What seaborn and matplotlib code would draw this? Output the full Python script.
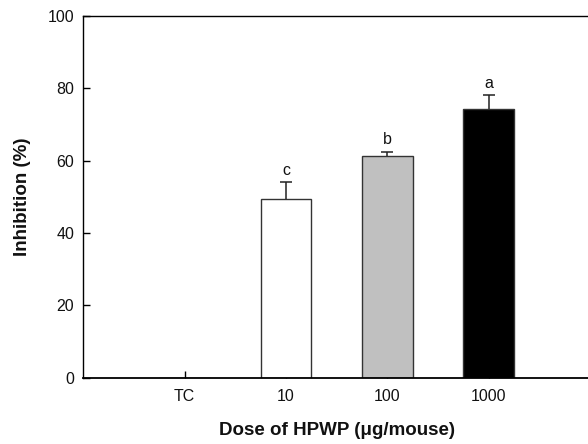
import matplotlib
matplotlib.use("Agg")
import matplotlib.pyplot as plt
import seaborn as sns
import pandas as pd

categories = ["TC", "10", "100", "1000"]
inhibition = [0.0, 49.4, 61.3, 74.3]
errors = [0.0, 4.6, 1.2, 3.9]
letters = ["", "c", "b", "a"]
bar_colors = ["#ffffff", "#ffffff", "#c0c0c0", "#000000"]

sns.set_theme(style="white")
plt.rcParams['font.family'] = ['Liberation Sans', 'DejaVu Sans']
plt.rcParams['xtick.direction'] = 'in'
plt.rcParams['ytick.direction'] = 'in'
plt.rcParams['xtick.bottom'] = True
plt.rcParams['ytick.left'] = True

df = pd.DataFrame({"dose": categories, "inh": inhibition})

fig = plt.figure(figsize=(5.88, 4.44), dpi=100)
ax = fig.add_axes([83.3 / 588, 1 - 377.7 / 444, 506.5 / 588, 361.7 / 444])

sns.barplot(data=df, x="dose", y="inh", hue="dose", order=categories,
            hue_order=categories, palette=bar_colors, width=0.5,
            edgecolor="#333333", linewidth=1.0, legend=False, errorbar=None, ax=ax)

xs = list(range(len(categories)))
for i in range(1, len(categories)):
    _, caps, _ = ax.errorbar(xs[i], inhibition[i], yerr=[[0], [errors[i]]], fmt="none",
                             ecolor="#222222", elinewidth=1.1, capsize=4,
                             capthick=1.1, zorder=1)
    if len(caps) == 2:
        caps[0].set_visible(False)
    ax.annotate(letters[i], (xs[i], inhibition[i] + errors[i]),
                xytext=(0, 3), textcoords="offset points",
                ha="center", va="bottom", fontsize=11.5, color="#111111")

ax.set_xlim(-1, 4)
ax.set_ylim(0, 100)
ax.set_yticks([0, 20, 40, 60, 80, 100])
ax.set_xticks(xs)
ax.set_xticklabels(categories)

for side in ["left", "top", "bottom", "right"]:
    ax.spines[side].set_color("black")
    ax.spines[side].set_linewidth(1.0)
ax.spines["bottom"].set_linewidth(1.3)

ax.tick_params(axis="both", which="major", direction="in", length=5, width=1,
               color="black", labelsize=11.5, labelcolor="#111111",
               left=True, bottom=True)
ax.tick_params(axis="y", pad=6.5)
ax.tick_params(axis="x", pad=8)

ax.set_xlabel("Dose of HPWP (\u03bcg/mouse)", fontsize=13.5, fontweight="bold",
              labelpad=13, color="#111111")
ax.set_ylabel("Inhibition (%)", fontsize=13.5, fontweight="bold",
              labelpad=12, color="#111111")

fig.savefig("out.png", dpi=100)
